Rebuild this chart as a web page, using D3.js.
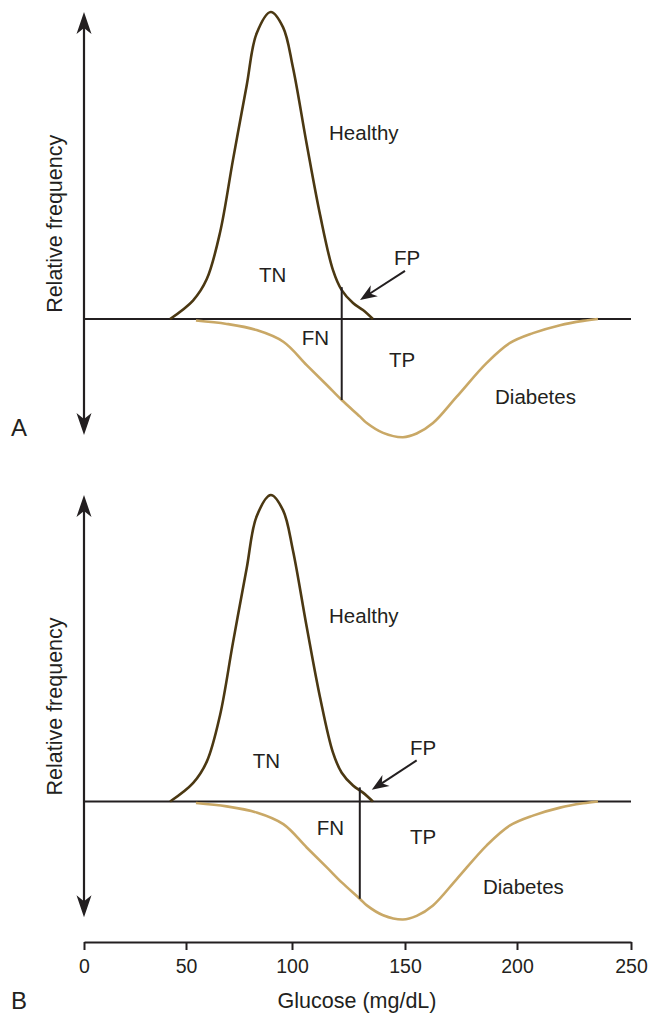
<!DOCTYPE html>
<html>
<head>
<meta charset="utf-8">
<script src="https://cdn.jsdelivr.net/npm/d3@7"></script>
<style>
  body { margin: 0; background: #fff; }
  svg text { font-family: "Liberation Sans", Arial, sans-serif; fill: #231f20; }
</style>
</head>
<body>
<svg id="chart" width="651" height="1016"></svg>
<script>
// glucose (mg/dL) and relative frequency (healthy peak = 1)
var healthyGlucose = [42.2, 53.3, 59.8, 66, 72.2, 78.6, 83.3, 90, 95.8, 100.4, 106.5, 112.4, 118.1, 122, 127, 131.4, 135.8];
var healthyFreq    = [0, 0.06, 0.13, 0.28, 0.52, 0.76, 0.93, 1.0, 0.95, 0.82, 0.57, 0.34, 0.16, 0.094, 0.052, 0.029, 0];

var diabetesGlucose = [54.7, 69.2, 83.3, 95.9, 106.5, 115.4, 122, 130.1, 133.1, 140.3, 149.1, 155.2, 162.5, 173.1, 186.5, 196.9, 207, 218.9, 229, 235.5];
var diabetesFreq    = [0.005, 0.016, 0.036, 0.074, 0.15, 0.215, 0.264, 0.318, 0.339, 0.371, 0.385, 0.373, 0.339, 0.253, 0.143, 0.078, 0.046, 0.02, 0.006, 0];

var panelNames = ["A", "B"];
var thresholds = [122, 130];
var tickValues = [0, 50, 100, 150, 200, 250];

var svg = d3.select("#chart");
var ink = "#231f20";

// the drawn axis is not evenly spaced, so piecewise scale
var x = d3.scaleLinear().domain(tickValues).range([84, 186, 292, 405, 517, 631]);

var healthy = healthyGlucose.map(function (g, i) { return [g, healthyFreq[i]]; });
var diabetes = diabetesGlucose.map(function (g, i) { return [g, -diabetesFreq[i]]; });

function interp(xs, ys, t) {
    var i = d3.bisectRight(xs, t);
    if (i <= 0) return ys[0];
    if (i >= xs.length) return ys[ys.length - 1];
    var f = (t - xs[i - 1]) / (xs[i] - xs[i - 1]);
    return ys[i - 1] + f * (ys[i] - ys[i - 1]);
}

function arrowHead(g, tx, ty, angle, len, hw, notch) {
    // tip at (tx,ty), pointing along angle
    var c = Math.cos(angle), s = Math.sin(angle);
    function p(a, b) { return [tx - a * c - b * s, ty - a * s + b * c]; }
    var pts = [p(0, 0), p(len, hw), p(len - notch, 0), p(len, -hw)];
    g.append("path")
        .attr("d", "M" + pts.join("L") + "Z")
        .attr("fill", ink);
}

var panels = [
    { y0: 319, y1: 12, labels: [["Healthy", 116.4, 0.583], ["TN", 84.4, 0.12], ["FN", 104.3, -0.085], ["TP", 142.9, -0.156], ["Diabetes", 190.2, -0.277], ["FP", 145.1, 0.176]],
      fp: [150, 0.157, 130.1, 0.062], letterY: 436 },
    { y0: 801.5, y1: 495, labels: [["Healthy", 116.4, 0.584], ["TN", 81.5, 0.11], ["FN", 110.9, -0.11], ["TP", 152.2, -0.14], ["Diabetes", 184.8, -0.302], ["FP", 152.2, 0.153]],
      fp: [155.2, 0.134, 135.3, 0.038], letterY: 1009 }
];

panels.forEach(function (p, k) {
    var y = d3.scaleLinear().domain([0, 1]).range([p.y0, p.y1]);
    var g = svg.append("g");

    // vertical double arrow
    g.append("line")
        .attr("x1", x(0)).attr("x2", x(0))
        .attr("y1", y(1) + 10).attr("y2", y(-0.378) - 10)
        .attr("stroke", ink).attr("stroke-width", 2.2);
    arrowHead(g, x(0), y(1), -Math.PI / 2, 22, 7.5, 6);
    arrowHead(g, x(0), y(-0.378), Math.PI / 2, 22, 7.5, 6);

    // baseline
    g.append("line")
        .attr("x1", x(0)).attr("x2", x(250))
        .attr("y1", y(0)).attr("y2", y(0))
        .attr("stroke", ink).attr("stroke-width", 2);

    var line = d3.line()
        .x(function (d) { return x(d[0]); })
        .y(function (d) { return y(d[1]); })
        .curve(d3.curveCatmullRom.alpha(0.5));

    g.append("path").datum(diabetes)
        .attr("d", line)
        .attr("fill", "none").attr("stroke", "#c9a866").attr("stroke-width", 2.6);
    g.append("path").datum(healthy)
        .attr("d", line)
        .attr("fill", "none").attr("stroke", "#4b3812").attr("stroke-width", 2.6);

    // cutoff line
    var t = thresholds[k];
    g.append("line")
        .attr("x1", x(t)).attr("x2", x(t))
        .attr("y1", y(interp(healthyGlucose, healthyFreq, t)) - 3)
        .attr("y2", y(-interp(diabetesGlucose, diabetesFreq, t)))
        .attr("stroke", ink).attr("stroke-width", 2);

    // FP arrow
    var ax0 = x(p.fp[0]), ay0 = y(p.fp[1]), ax1 = x(p.fp[2]), ay1 = y(p.fp[3]);
    var ang = Math.atan2(ay1 - ay0, ax1 - ax0);
    g.append("line")
        .attr("x1", ax0).attr("y1", ay0)
        .attr("x2", ax1 - 10 * Math.cos(ang)).attr("y2", ay1 - 10 * Math.sin(ang))
        .attr("stroke", ink).attr("stroke-width", 2);
    arrowHead(g, ax1, ay1, ang, 17, 6.5, 5);

    p.labels.forEach(function (l) {
        g.append("text")
            .attr("x", x(l[1])).attr("y", y(l[2]))
            .attr("font-size", 20.5)
            .text(l[0]);
    });

    g.append("text")
        .attr("transform", "translate(62," + y(0.31) + ") rotate(-90)")
        .attr("text-anchor", "middle")
        .attr("font-size", 21.5)
        .text("Relative frequency");

    g.append("text")
        .attr("x", 11).attr("y", p.letterY)
        .attr("font-size", 24)
        .text(panelNames[k]);
});

// glucose axis under panel B
var axis = svg.append("g")
    .attr("transform", "translate(0,942)")
    .call(d3.axisBottom(x).tickValues(tickValues).tickSize(8).tickSizeOuter(0).tickPadding(9));
axis.select(".domain").attr("stroke", ink).attr("stroke-width", 2);
axis.selectAll(".tick line").attr("stroke", ink).attr("stroke-width", 2);
axis.selectAll(".tick text")
    .attr("font-size", 19.5)
    .attr("font-family", "Liberation Sans, Arial, sans-serif")
    .attr("fill", ink);

svg.append("text")
    .attr("x", 357).attr("y", 1008)
    .attr("text-anchor", "middle")
    .attr("font-size", 21.5)
    .text("Glucose (mg/dL)");
</script>
</body>
</html>
